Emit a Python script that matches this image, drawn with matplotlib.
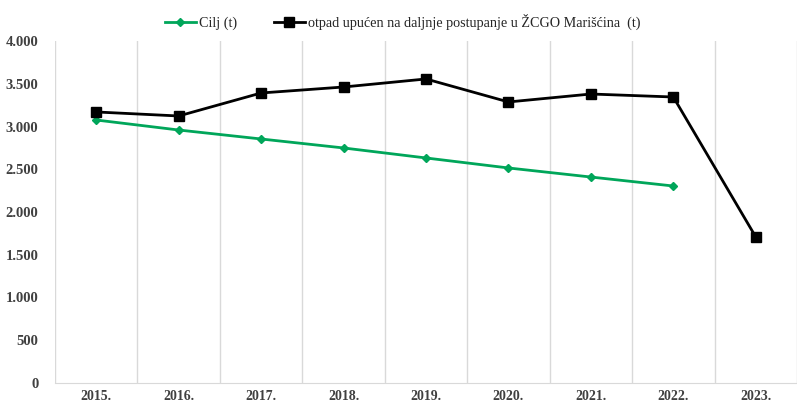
import matplotlib
matplotlib.use("Agg")
import matplotlib.pyplot as plt
from matplotlib.ticker import FuncFormatter, MultipleLocator

years = ["2015.", "2016.", "2017.", "2018.", "2019.", "2020.", "2021.", "2022.", "2023."]
cilj = [3076, 2959, 2854, 2749, 2632, 2515, 2409, 2304]
otpad = [3170, 3123, 3392, 3462, 3556, 3287, 3380, 3345, 1708]

plt.rcParams['font.family'] = ['Liberation Serif', 'DejaVu Serif']

fig = plt.figure(figsize=(7.97, 4.05), dpi=100)
ax = fig.add_axes([55/797, 1 - 383/405, 1 - 55/797, (383 - 41)/405])

x_all = list(range(len(years)))
ax.plot(x_all[:len(cilj)], cilj, color='#00A65A', lw=2.0, marker='D', ms=4.5,
        label='Cilj (t)', zorder=3)
ax.plot(x_all, otpad, color='black', lw=2.0, marker='s', ms=6.5,
        label='otpad upućen na daljnje postupanje u ŽCGO Marišćina  (t)', zorder=4)

ax.set_xlim(-0.5, 8.386)
ax.set_ylim(0, 4000)
ax.yaxis.set_major_locator(MultipleLocator(500))
ax.yaxis.set_major_formatter(FuncFormatter(lambda v, p: f"{int(v):,}".replace(",", ".")))
ax.set_xticks(x_all)
ax.set_xticklabels(years)
ax.set_xticks([i - 0.5 for i in range(len(years) + 1)], minor=True)
ax.grid(True, which='minor', axis='x', color='#D9D9D9', lw=1)
ax.grid(False, which='major')
ax.tick_params(which='both', length=0)
ax.tick_params(axis='x', pad=5, labelsize=10, labelcolor='#404040')
ax.tick_params(axis='y', pad=12, labelsize=10.5, labelcolor='#404040')
for lab in ax.get_xticklabels() + ax.get_yticklabels():
    lab.set_fontweight('bold')
for s in ['top', 'right', 'left']:
    ax.spines[s].set_visible(False)
ax.spines['bottom'].set_color('#D9D9D9')

leg = fig.legend(loc='center', bbox_to_anchor=(0.505, 1 - 22/405), ncol=2, frameon=False,
                 fontsize=10.2, handlelength=2.2, columnspacing=2.6, handletextpad=0.2)
for t in leg.get_texts():
    t.set_color('#262626')

fig.savefig('out.png', dpi=100)
